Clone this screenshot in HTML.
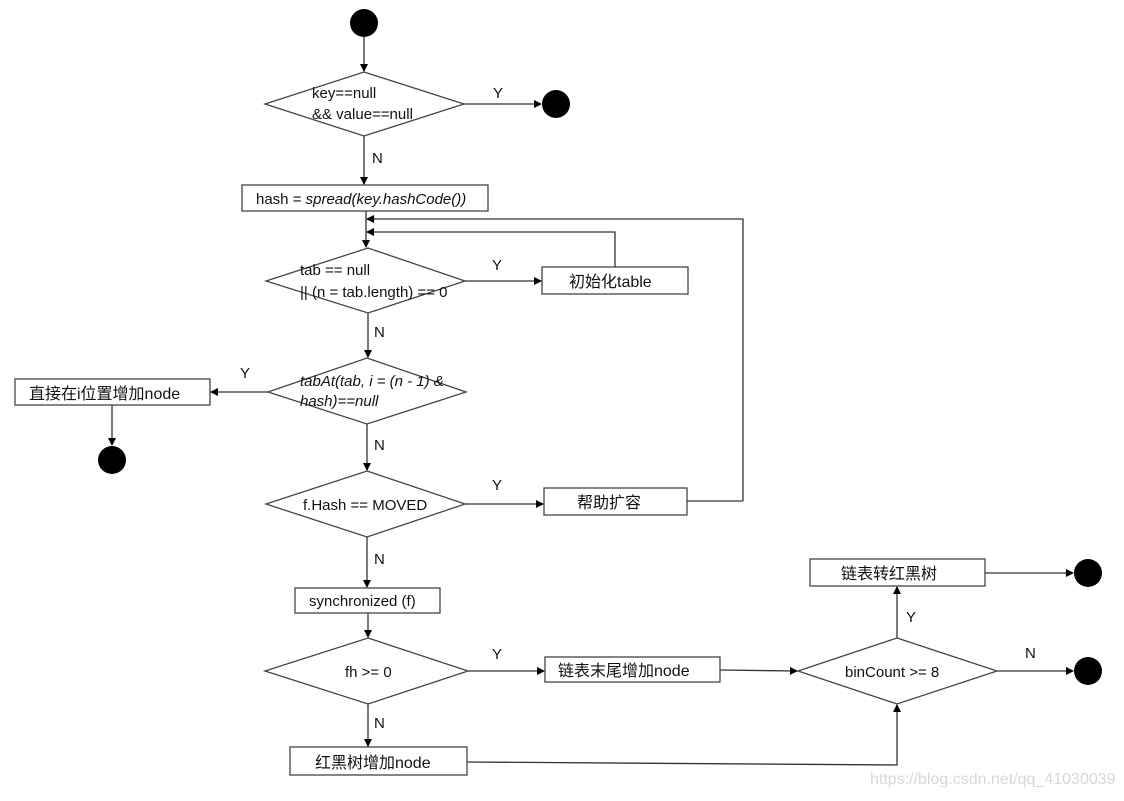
<!DOCTYPE html>
<html><head><meta charset="utf-8"><style>
html,body{margin:0;padding:0;background:#fff;}
svg text{font-family:"Liberation Sans","Noto Sans CJK SC",sans-serif;font-size:15px;fill:#111;}
svg text.c{font-size:16px;}
</style></head><body>
<svg width="1124" height="796" viewBox="0 0 1124 796" xmlns="http://www.w3.org/2000/svg">
<defs><marker id="a" markerWidth="8" markerHeight="8" refX="7" refY="4" orient="auto" markerUnits="userSpaceOnUse"><path d="M0,0 L8,4 L0,8 z" fill="#000"/></marker></defs>
<g stroke="#444" stroke-width="1.3" fill="#fff">
<circle cx="364" cy="23" r="14" fill="#000" stroke="none"/>
<circle cx="556" cy="104" r="14" fill="#000" stroke="none"/>
<circle cx="112" cy="460" r="14" fill="#000" stroke="none"/>
<circle cx="1088" cy="573" r="14" fill="#000" stroke="none"/>
<circle cx="1088" cy="671" r="14" fill="#000" stroke="none"/>
<polygon points="364,72 464,104 364,136 265,104"/>
<polygon points="368,248 465,281 368,313 266,281"/>
<polygon points="367,358 466,392 367,424 268,392"/>
<polygon points="367,471 465,504 367,537 266,504"/>
<polygon points="368,638 468,671 368,704 265,671"/>
<polygon points="897,638 997,671 897,704 798,671"/>
<rect x="242" y="185" width="246" height="26"/>
<rect x="542" y="267" width="146" height="27"/>
<rect x="15" y="379" width="195" height="26"/>
<rect x="544" y="488" width="143" height="27"/>
<rect x="295" y="588" width="145" height="25"/>
<rect x="545" y="657" width="175" height="25"/>
<rect x="810" y="559" width="175" height="27"/>
<rect x="290" y="747" width="177" height="28"/>
</g>
<g stroke="#333" stroke-width="1.3" fill="none">
<line x1="364" y1="37" x2="364" y2="71" marker-end="url(#a)"/>
<line x1="464" y1="104" x2="541" y2="104" marker-end="url(#a)"/>
<line x1="364" y1="136" x2="364" y2="184" marker-end="url(#a)"/>
<line x1="366" y1="211" x2="366" y2="247" marker-end="url(#a)"/>
<polyline points="743,501 743,219 367,219" marker-end="url(#a)"/>
<polyline points="615,267 615,232 367,232" marker-end="url(#a)"/>
<line x1="687" y1="501" x2="743" y2="501"/>
<line x1="465" y1="281" x2="541" y2="281" marker-end="url(#a)"/>
<line x1="368" y1="313" x2="368" y2="357" marker-end="url(#a)"/>
<line x1="268" y1="392" x2="211" y2="392" marker-end="url(#a)"/>
<line x1="112" y1="405" x2="112" y2="445" marker-end="url(#a)"/>
<line x1="367" y1="424" x2="367" y2="470" marker-end="url(#a)"/>
<line x1="465" y1="504" x2="543" y2="504" marker-end="url(#a)"/>
<line x1="367" y1="537" x2="367" y2="587" marker-end="url(#a)"/>
<line x1="368" y1="613" x2="368" y2="637" marker-end="url(#a)"/>
<line x1="468" y1="671" x2="544" y2="671" marker-end="url(#a)"/>
<line x1="368" y1="704" x2="368" y2="746" marker-end="url(#a)"/>
<line x1="720" y1="670" x2="797" y2="671" marker-end="url(#a)"/>
<polyline points="467,762 897,765 897,705" marker-end="url(#a)"/>
<line x1="897" y1="638" x2="897" y2="587" marker-end="url(#a)"/>
<line x1="985" y1="573" x2="1073" y2="573" marker-end="url(#a)"/>
<line x1="997" y1="671" x2="1073" y2="671" marker-end="url(#a)"/>
</g>
<text x="312" y="98">key==null</text>
<text x="312" y="119">&amp;&amp; value==null</text>
<text x="493" y="98">Y</text>
<text x="372" y="163">N</text>
<text x="256" y="204">hash = <tspan font-style="italic">spread(key.hashCode())</tspan></text>
<text x="300" y="275">tab == null</text>
<text x="300" y="297">|| (n = tab.length) == 0</text>
<text x="492" y="270">Y</text>
<text class="c" x="569" y="287">初始化table</text>
<text x="374" y="337">N</text>
<text x="300" y="386" font-style="italic">tabAt(tab, i = (n - 1) &amp;</text>
<text x="300" y="406" font-style="italic">hash)==null</text>
<text x="240" y="378">Y</text>
<text class="c" x="29" y="399">直接在i位置增加node</text>
<text x="374" y="450">N</text>
<text x="303" y="510">f.Hash == MOVED</text>
<text x="492" y="490">Y</text>
<text class="c" x="577" y="508">帮助扩容</text>
<text x="374" y="564">N</text>
<text x="309" y="606">synchronized (f)</text>
<text x="345" y="677">fh &gt;= 0</text>
<text x="492" y="659">Y</text>
<text class="c" x="558" y="676">链表末尾增加node</text>
<text x="374" y="728">N</text>
<text class="c" x="315" y="768">红黑树增加node</text>
<text x="845" y="677">binCount &gt;= 8</text>
<text x="906" y="622">Y</text>
<text x="1025" y="658">N</text>
<text class="c" x="841" y="579">链表转红黑树</text>
<text x="870" y="784" style="fill:#d8d8d8;font-size:16px">https://blog.csdn.net/qq_41030039</text>
</svg>
</body></html>
